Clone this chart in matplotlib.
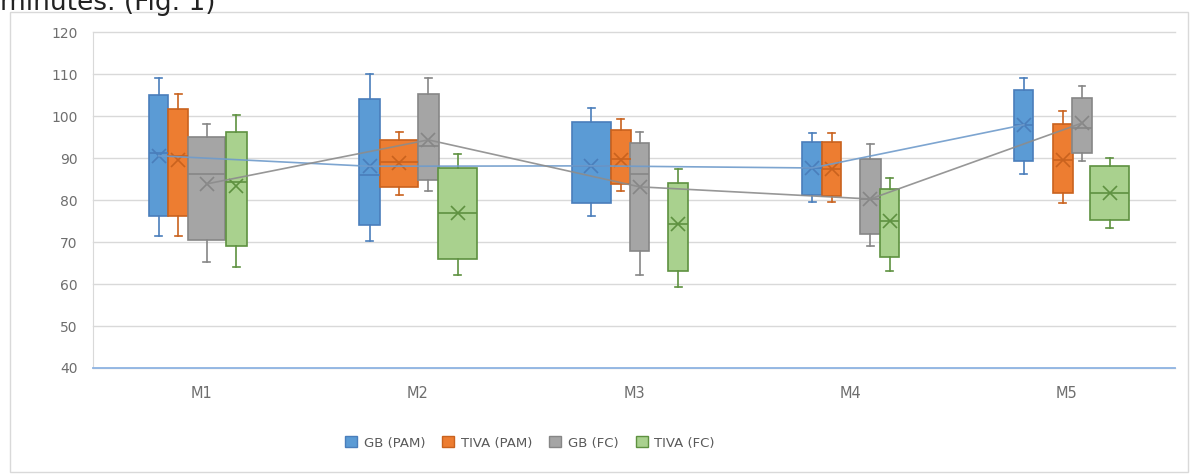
import matplotlib.pyplot as plt
from matplotlib.patches import Patch, Rectangle

categories = ['M1', 'M2', 'M3', 'M4', 'M5']
series = ['GB (PAM)', 'TIVA (PAM)', 'GB (FC)', 'TIVA (FC)']

gb_pam_hi = [109.2, 110.2, 102.0, 96.0, 109.2]
gb_pam_q3 = [105.0, 104.2, 98.6, 94.0, 106.2]
gb_pam_med = [91.2, 86.1, 88.2, 87.7, 98.0]
gb_pam_q1 = [76.3, 74.1, 79.3, 81.3, 89.3]
gb_pam_lo = [71.4, 70.2, 76.3, 79.5, 86.3]
gb_pam_mean = [90.6, 88.1, 88.2, 87.7, 98.0]

tiva_pam_hi = [105.3, 96.2, 99.4, 96.0, 101.4]
tiva_pam_q3 = [101.8, 94.4, 96.8, 94.0, 98.3]
tiva_pam_med = [90.5, 89.1, 89.8, 87.4, 89.7]
tiva_pam_q1 = [76.3, 83.2, 83.9, 80.9, 81.7]
tiva_pam_lo = [71.4, 81.2, 82.1, 79.5, 79.3]
tiva_pam_mean = [89.7, 88.9, 89.7, 87.4, 89.7]

gb_fc_hi = [98.3, 109.2, 96.2, 93.4, 107.3]
gb_fc_q3 = [95.1, 105.4, 93.6, 89.8, 104.5]
gb_fc_med = [86.3, 93.0, 86.3, 80.3, 97.2]
gb_fc_q1 = [70.6, 84.9, 68.0, 72.0, 91.3]
gb_fc_lo = [65.3, 82.1, 62.2, 69.2, 89.3]
gb_fc_mean = [83.9, 94.4, 83.2, 80.3, 98.4]

tiva_fc_hi = [100.4, 91.1, 87.4, 85.3, 90.1]
tiva_fc_q3 = [96.2, 87.8, 84.1, 82.7, 88.1]
tiva_fc_med = [84.3, 76.9, 74.4, 75.1, 81.7]
tiva_fc_q1 = [69.2, 66.0, 63.2, 66.4, 75.3]
tiva_fc_lo = [64.2, 62.2, 59.4, 63.2, 73.4]
tiva_fc_mean = [83.5, 76.9, 74.4, 75.1, 81.7]

# layout: box centre offsets and widths in pixels (one category = 216.4 px)
px = 216.4
offsets = [
    [-42.4, -47.8, -42.8, -38.4, -43.0],
    [-23.2, -18.6, -13.3, -18.9, -4.1],
    [5.5, 10.7, 5.5, 19.9, 15.2],
    [35.1, 39.9, 44.3, 39.1, 42.7],
]
widths = [
    [19.0, 21.0, 39.0, 20.6, 19.0],
    [20.6, 37.4, 20.0, 18.4, 20.0],
    [36.7, 21.3, 19.0, 20.7, 19.4],
    [20.7, 38.4, 20.0, 19.0, 39.0],
]
fills = ['#5B9BD5', '#ED7D31', '#A5A5A5', '#A9D18E']
edges = ['#4A7EBB', '#C9621E', '#868686', '#5E9140']

data = [
    (gb_pam_lo, gb_pam_q1, gb_pam_med, gb_pam_q3, gb_pam_hi, gb_pam_mean),
    (tiva_pam_lo, tiva_pam_q1, tiva_pam_med, tiva_pam_q3, tiva_pam_hi, tiva_pam_mean),
    (gb_fc_lo, gb_fc_q1, gb_fc_med, gb_fc_q3, gb_fc_hi, gb_fc_mean),
    (tiva_fc_lo, tiva_fc_q1, tiva_fc_med, tiva_fc_q3, tiva_fc_hi, tiva_fc_mean),
]

fig = plt.figure(figsize=(11.94, 4.74), dpi=100)
ax = fig.add_axes([93 / 1194, 1 - 368 / 474, 1082 / 1194, 335.5 / 474])

centres = {}
for s, (lo, q1, med, q3, hi, mean) in enumerate(data):
    stats = []
    for i in range(len(categories)):
        stats.append(dict(whislo=lo[i], q1=q1[i], med=med[i], q3=q3[i],
                          whishi=hi[i], mean=mean[i], fliers=[]))
    pos = [i + offsets[s][i] / px for i in range(len(categories))]
    centres[s] = pos
    ax.bxp(stats, positions=pos, widths=[w / px for w in widths[s]],
           patch_artist=True, showmeans=True, capwidths=7 / px,
           manage_ticks=False,
           boxprops=dict(facecolor=fills[s], edgecolor=edges[s], linewidth=1.2),
           medianprops=dict(color=edges[s], linewidth=1.2),
           whiskerprops=dict(color=edges[s], linewidth=1.2),
           capprops=dict(color=edges[s], linewidth=1.2),
           meanprops=dict(marker='x', markersize=10, markeredgecolor=edges[s],
                          markeredgewidth=1.2))

# mean lines shown for the two GB series
ax.plot(centres[0], gb_pam_mean, color='#6F9BCB', lw=1.2, zorder=5, alpha=0.9)
ax.plot(centres[2], gb_fc_mean, color='#8C8C8C', lw=1.2, zorder=5, alpha=0.9)

ax.set_xlim(-0.5, 4.5)
ax.set_ylim(40, 120)
ax.set_yticks(range(40, 121, 10))
ax.set_xticks(range(len(categories)))
ax.set_xticklabels(categories)
ax.yaxis.grid(True, color='#D9D9D9', lw=1)
for gl in ax.get_ygridlines():
    gl.set_clip_on(False)
ax.set_axisbelow(True)
ax.tick_params(axis='both', length=0, colors='#6E6E6E', labelsize=10)
ax.tick_params(axis='y', pad=11)
ax.tick_params(axis='x', pad=13, labelsize=10.5)
for side in ['top', 'right']:
    ax.spines[side].set_visible(False)
ax.spines['left'].set_color('#D9D9D9')
ax.spines['bottom'].set_color('#8EB4E3')
ax.spines['bottom'].set_linewidth(1.3)

handles = [Patch(facecolor=fills[s], edgecolor=edges[s], label=series[s])
           for s in range(len(series))]
fig.legend(handles=handles, loc='center', bbox_to_anchor=(530 / 1194, 1 - 443 / 474),
           ncol=4, frameon=False, fontsize=9.5, handlelength=0.9, handleheight=0.9,
           handletextpad=0.5, columnspacing=1.3, labelcolor='#595959')

# chart border and the cut-off caption above it (cut off in the source as well)
fig.patches.append(Rectangle((10 / 1194, 2 / 474), 1178 / 1194, 460 / 474,
                             transform=fig.transFigure, fill=False,
                             edgecolor='#D9D9D9', lw=1))
fig.text(0, 1 - 10 / 474, 'minutes. (Fig. 1)', fontsize=19, color='#222222',
         va='baseline', ha='left')

fig.savefig('out.png', dpi=100)
